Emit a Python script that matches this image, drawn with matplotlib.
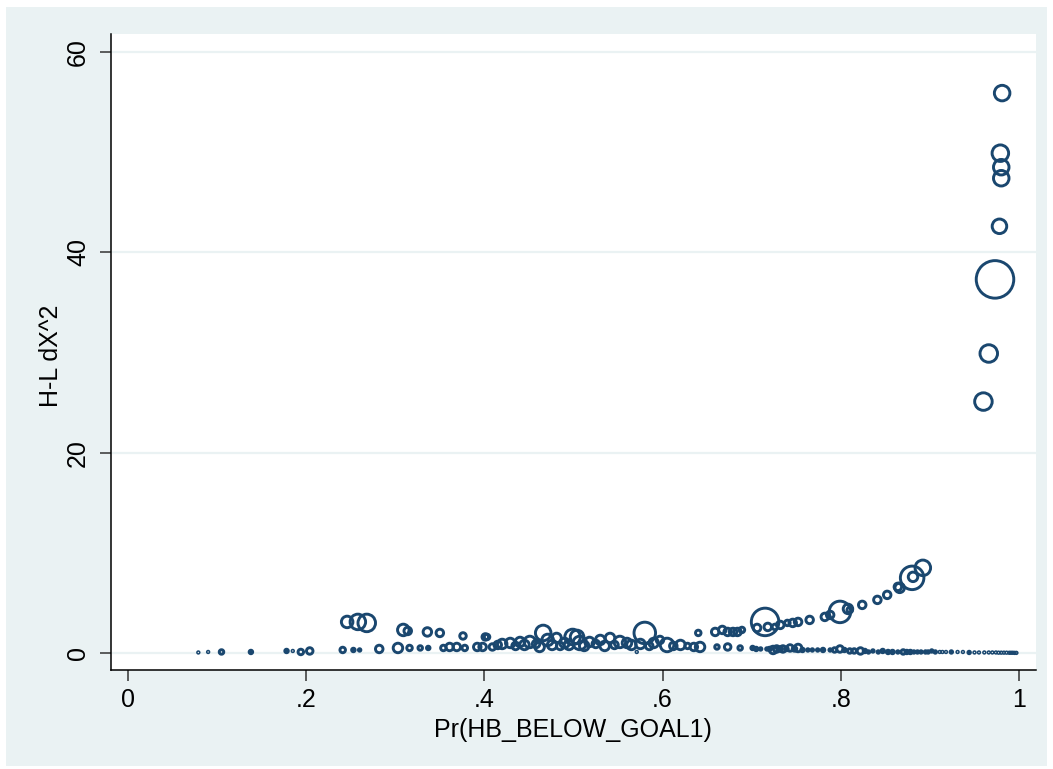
import matplotlib
matplotlib.use('Agg')
import matplotlib.pyplot as plt
from matplotlib.patches import Rectangle
from matplotlib.ticker import FixedLocator, FuncFormatter

plt.rcParams['font.family'] = ['Liberation Sans', 'DejaVu Sans']

# 预测概率 / H-L dX^2 / delta-beta (权重), 按分支分组
p_top = [0.981, 0.979, 0.980, 0.980, 0.978, 0.973, 0.966, 0.960]
dx_top = [55.9, 49.9, 48.5, 47.4, 42.6, 37.3, 29.9, 25.1]
db_top = [0.171, 0.194, 0.171, 0.171, 0.150, 1.0, 0.218, 0.218]

p_up = [0.246, 0.258, 0.268, 0.309, 0.314, 0.336, 0.350, 0.376, 0.401, 0.403,
        0.466, 0.471, 0.481, 0.499, 0.504, 0.580, 0.597, 0.640, 0.659, 0.667,
        0.673, 0.679, 0.684, 0.689, 0.706, 0.715, 0.718, 0.726, 0.732, 0.740,
        0.746, 0.752, 0.765, 0.782, 0.788, 0.799, 0.808, 0.810, 0.824, 0.841,
        0.852, 0.864, 0.866, 0.880, 0.881, 0.892]
dx_up = [3.1, 3.1, 3.0, 2.3, 2.2, 2.1, 2.0, 1.7, 1.6, 1.6,
         2.0, 1.3, 1.5, 1.6, 1.6, 2.0, 1.3, 2.0, 2.1, 2.3,
         2.1, 2.1, 2.1, 2.3, 2.5, 3.1, 2.6, 2.6, 2.8, 3.0,
         3.0, 3.1, 3.3, 3.6, 3.8, 4.1, 4.4, 4.3, 4.8, 5.3,
         5.8, 6.6, 6.5, 7.5, 7.6, 8.5]
db_up = [0.094, 0.171, 0.218, 0.094, 0.040, 0.051, 0.040, 0.030, 0.030, 0.0215,
         0.171, 0.094, 0.064, 0.171, 0.130, 0.329, 0.040, 0.0215, 0.040, 0.040,
         0.040, 0.040, 0.040, 0.0215, 0.040, 0.538, 0.040, 0.0215, 0.040, 0.0215,
         0.040, 0.040, 0.040, 0.040, 0.040, 0.329, 0.064, 0.0215, 0.040, 0.040,
         0.040, 0.040, 0.064, 0.393, 0.064, 0.171]

p_lo = [0.079, 0.090, 0.105, 0.138, 0.178, 0.185, 0.194, 0.204, 0.241, 0.253,
        0.260, 0.282, 0.303, 0.316, 0.328, 0.337, 0.354, 0.361, 0.369, 0.378,
        0.392, 0.398, 0.409, 0.415, 0.420, 0.429, 0.435, 0.440, 0.445, 0.451,
        0.458, 0.462, 0.476, 0.485, 0.490, 0.495, 0.507, 0.512, 0.518, 0.525,
        0.530, 0.535, 0.541, 0.546, 0.552, 0.560, 0.565, 0.571, 0.575, 0.585,
        0.590, 0.605, 0.612, 0.620, 0.628, 0.635, 0.642, 0.661, 0.673, 0.687,
        0.701, 0.717, 0.724, 0.728, 0.735, 0.743, 0.752, 0.763, 0.774, 0.788,
        0.799, 0.810, 0.822, 0.831, 0.842, 0.853, 0.870, 0.878, 0.886, 0.895,
        0.902, 0.911, 0.918, 0.924, 0.931, 0.937, 0.944, 0.950, 0.955, 0.961,
        0.966, 0.970, 0.974, 0.977, 0.980, 0.983, 0.986, 0.989, 0.991, 0.993,
        0.995, 0.997]
dx_lo = [0.05, 0.1, 0.1, 0.1, 0.2, 0.2, 0.1, 0.2, 0.3, 0.3,
         0.3, 0.4, 0.5, 0.5, 0.5, 0.5, 0.5, 0.6, 0.6, 0.5,
         0.6, 0.6, 0.6, 0.8, 0.9, 1.0, 0.7, 1.1, 0.8, 1.1,
         0.9, 0.6, 0.8, 0.7, 1.0, 0.8, 1.0, 0.7, 1.1, 0.9,
         1.3, 0.7, 1.5, 0.8, 1.1, 1.0, 0.8, 0.1, 0.9, 0.7,
         1.0, 0.8, 0.7, 0.8, 0.7, 0.6, 0.6, 0.6, 0.6, 0.5,
         0.5, 0.4, 0.3, 0.4, 0.4, 0.5, 0.5, 0.3, 0.3, 0.3,
         0.4, 0.2, 0.2, 0.1, 0.1, 0.1, 0.1, 0.1, 0.1, 0.1,
         0.2, 0.1, 0.1, 0.1, 0.1, 0.1, 0.05, 0.05, 0.05, 0.05,
         0.05, 0.05, 0.05, 0.03, 0.03, 0.03, 0.03, 0.02, 0.02, 0.02,
         0.01, 0.01]
db_lo = [0.0016, 0.0016, 0.0144, 0.0087, 0.0087, 0.0016, 0.0215, 0.030, 0.0215, 0.0087,
         0.0044, 0.040, 0.064, 0.0215, 0.0144, 0.0087, 0.0215, 0.040, 0.040, 0.0215,
         0.040, 0.040, 0.030, 0.040, 0.064, 0.064, 0.040, 0.064, 0.064, 0.094,
         0.040, 0.064, 0.064, 0.040, 0.064, 0.064, 0.130, 0.064, 0.064, 0.040,
         0.064, 0.064, 0.064, 0.040, 0.094, 0.064, 0.064, 0.0016, 0.064, 0.040,
         0.064, 0.130, 0.040, 0.064, 0.0215, 0.040, 0.064, 0.0144, 0.030, 0.0144,
         0.0087, 0.0044, 0.040, 0.030, 0.030, 0.030, 0.040, 0.0044, 0.0044, 0.0044,
         0.030, 0.0144, 0.030, 0.0044, 0.0044, 0.0087, 0.0144, 0.0087, 0.0044, 0.0044,
         0.0044, 0.0016, 0.0016, 0.0044, 0.0016, 0.0016, 0.0044, 0.0016, 0.0016, 0.0016,
         0.0016, 0.0016, 0.0016, 0.0016, 0.0016, 0.0016, 0.0016, 0.0016, 0.0016, 0.0016,
         0.0016, 0.0016]

# 下分支 0.70-0.92 之间的密集小点
p_lo2 = [0.705, 0.710, 0.720, 0.732, 0.739, 0.748, 0.757, 0.768, 0.780, 0.793,
         0.804, 0.815, 0.827, 0.836, 0.847, 0.858, 0.864, 0.874, 0.882, 0.890,
         0.898, 0.906, 0.914]
dx_lo2 = [0.4, 0.4, 0.4, 0.4, 0.4, 0.4, 0.3, 0.3, 0.3, 0.3,
          0.3, 0.2, 0.2, 0.2, 0.2, 0.1, 0.1, 0.1, 0.1, 0.1,
          0.1, 0.1, 0.1]
db_lo2 = [0.0087, 0.0044, 0.0087, 0.0144, 0.0087, 0.0144, 0.0087, 0.0044, 0.0087, 0.0144,
          0.0087, 0.0144, 0.0087, 0.0044, 0.0087, 0.0087, 0.0044, 0.0087, 0.0044, 0.0044,
          0.0044, 0.0044, 0.0016]

x_ticks = [0, 0.2, 0.4, 0.6, 0.8, 1]
y_ticks = [0, 20, 40, 60]

navy = '#1A476F'
bg = '#EAF2F3'

fig = plt.figure(figsize=(10.53, 7.69), dpi=100)
fig.patch.set_facecolor('white')
fig.add_artist(Rectangle((6 / 1053, 3 / 769), 1041 / 1053, 759 / 769,
                         transform=fig.transFigure, facecolor=bg,
                         edgecolor='none', zorder=0))

ax = fig.add_axes([111 / 1053, 99 / 769, 925 / 1053, 636 / 769])
ax.set_facecolor('white')

p = p_top + p_up + p_lo + p_lo2
dx = dx_top + dx_up + dx_lo + dx_lo2
db = db_top + db_up + db_lo + db_lo2
ax.scatter(p, dx, s=[730 * w for w in db], facecolors='none',
           edgecolors=navy, linewidths=2.1, zorder=3)

ax.set_xlim(-0.019, 1.019)
ax.set_ylim(-1.7, 61.8)
ax.xaxis.set_major_locator(FixedLocator(x_ticks))
ax.yaxis.set_major_locator(FixedLocator(y_ticks))
ax.xaxis.set_major_formatter(FuncFormatter(
    lambda v, pos: '0' if v == 0 else ('1' if v == 1 else ('%.1f' % v).lstrip('0'))))
ax.yaxis.set_major_formatter(FuncFormatter(lambda v, pos: '%d' % v))

ax.grid(axis='y', color=bg, linewidth=1.6, zorder=1)
ax.set_axisbelow(True)

for side in ['top', 'right']:
    ax.spines[side].set_visible(False)
for side in ['left', 'bottom']:
    ax.spines[side].set_linewidth(1.1)
    ax.spines[side].set_color('black')

ax.tick_params(direction='out', length=8, width=1.1, color='#333333',
               labelsize=18, labelcolor='black')
ax.tick_params(axis='x', pad=5)
ax.tick_params(axis='y', pad=7, labelrotation=90)
for lbl in ax.get_yticklabels():
    lbl.set_va('center')

fig.text(573 / 1053, 1 - 730 / 769, 'Pr(HB_BELOW_GOAL1)', fontsize=18,
         ha='center', va='center')
fig.text(51 / 1053, 1 - 356 / 769, 'H-L dX^2', fontsize=18, rotation=90,
         ha='center', va='center')

plt.savefig('out.png', dpi=100)
